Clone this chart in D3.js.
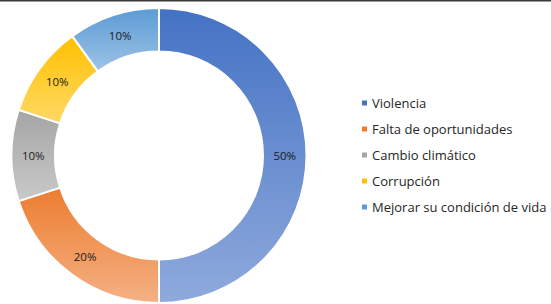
<!DOCTYPE html>
<html>
<head>
<meta charset="utf-8">
<script src="https://cdn.jsdelivr.net/npm/d3@7"></script>
<style>
  body { margin: 0; background: #fff; }
  svg { display: block; }
</style>
</head>
<body>
<div id="chart-area"></div>
<script>
var categories = ["Violencia", "Falta de oportunidades", "Cambio climático", "Corrupción", "Mejorar su condición de vida"];
var values = [50, 20, 10, 10, 10];
var topColors = ["#4472C4", "#ED7D31", "#A5A5A5", "#FFC000", "#5B9BD5"];
var bottomColors = ["#8FAADC", "#F4B183", "#C9C9C9", "#FFD966", "#9DC3E6"];

var width = 551, height = 304;

var svg = d3.select("#chart-area").append("svg")
    .attr("width", width)
    .attr("height", height);

// thin dark border on top edge
svg.append("rect")
    .attr("x", 0).attr("y", 0)
    .attr("width", width).attr("height", 1.5)
    .attr("fill", "#3a3a3a");

var data = categories.map((c, i) => ({ name: c, value: values[i], i: i }));

var defs = svg.append("defs");
data.forEach((d) => {
    var g = defs.append("linearGradient")
        .attr("id", "grad" + d.i)
        .attr("x1", 0).attr("y1", 0)
        .attr("x2", 0).attr("y2", 1);
    g.append("stop").attr("offset", "0%").attr("stop-color", topColors[d.i]);
    g.append("stop").attr("offset", "100%").attr("stop-color", bottomColors[d.i]);
});

var cx = 159, cy = 155.5;
var outerR = 147.5, innerR = 104;

var pie = d3.pie().value((d) => d.value).sort(null);
var arc = d3.arc().innerRadius(innerR).outerRadius(outerR);
var labelArc = d3.arc().innerRadius((innerR + outerR) / 2).outerRadius((innerR + outerR) / 2);

var g = svg.append("g").attr("transform", "translate(" + cx + "," + cy + ")");

g.selectAll("path")
    .data(pie(data))
    .enter()
    .append("path")
    .attr("d", arc)
    .attr("fill", (d) => "url(#grad" + d.data.i + ")")
    .attr("stroke", "#fff")
    .attr("stroke-width", 2);

g.selectAll("text.lbl")
    .data(pie(data))
    .enter()
    .append("text")
    .attr("class", "lbl")
    .attr("transform", (d) => "translate(" + labelArc.centroid(d) + ")")
    .attr("text-anchor", "middle")
    .attr("dy", "0.35em")
    .attr("font-family", "'Open Sans', 'Noto Sans', sans-serif")
    .attr("font-size", "11.5px")
    .attr("fill", "#1a1a1a")
    .text((d) => d.data.value + "%");

// legend
var legend = svg.append("g").attr("transform", "translate(362,103)");
var rows = legend.selectAll("g")
    .data(data)
    .enter()
    .append("g")
    .attr("transform", (d, i) => "translate(0," + (i * 26) + ")");

rows.append("rect")
    .attr("x", 0).attr("y", -2.5)
    .attr("width", 5).attr("height", 5)
    .attr("fill", (d) => topColors[d.i]);

rows.append("text")
    .attr("x", 10)
    .attr("dy", "0.35em")
    .attr("font-family", "'Open Sans', 'Noto Sans', sans-serif")
    .attr("font-size", "13px")
    .attr("fill", "#262626")
    .text((d) => d.name);
</script>
</body>
</html>
